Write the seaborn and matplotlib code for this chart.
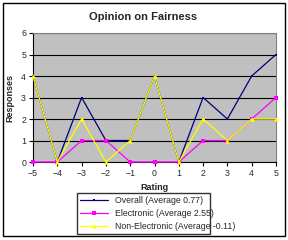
import pandas as pd
import matplotlib
matplotlib.use("Agg")
import matplotlib.pyplot as plt
import matplotlib.patches as mpatches
import seaborn as sns

# data
ratings = [-5, -4, -3, -2, -1, 0, 1, 2, 3, 4, 5]
overall = [4, 0, 3, 1, 1, 4, 0, 3, 2, 4, 5]
electronic = [0, 0, 1, 1, 0, 0, 0, 1, 1, 2, 3]
non_electronic = [4, 0, 2, 0, 1, 4, 0, 2, 1, 2, 2]
labels = ["Overall (Average 0.77)", "Electronic (Average 2.55)", "Non-Electronic (Average -0.11)"]

df = pd.DataFrame({
    "Rating": ratings * 3,
    "Responses": overall + electronic + non_electronic,
    "Series": [labels[0]] * 11 + [labels[1]] * 11 + [labels[2]] * 11,
})

sns.set_theme(style="white")
plt.rcParams["font.family"] = ["Liberation Sans", "DejaVu Sans"]

fig = plt.figure(figsize=(2.88, 2.40), dpi=100)
ax = fig.add_axes([33 / 288, 1 - 162 / 240, 243 / 288, 129 / 240])
ax.set_facecolor("#C0C0C0")

colors = {labels[0]: "#000080", labels[1]: "#FF00FF", labels[2]: "#FFFF00"}
markers = {labels[0]: "s", labels[1]: "s", labels[2]: "^"}
sizes = {labels[0]: 2.0, labels[1]: 3.2, labels[2]: 3.2}

for lab in labels:
    sub = df[df["Series"] == lab]
    sns.lineplot(data=sub, x="Rating", y="Responses", ax=ax, color=colors[lab],
                 marker=markers[lab], markersize=sizes[lab], markeredgewidth=0,
                 linewidth=0.9, label=lab, legend=False, clip_on=False, zorder=3)

ax.set_xlim(-5, 5)
ax.set_ylim(0, 6)
ax.set_xticks(ratings)
ax.set_yticks(range(0, 7))
ax.yaxis.grid(True, color="black", linewidth=0.8)
ax.set_axisbelow(True)
for s in ax.spines.values():
    s.set_color("#808080")
    s.set_linewidth(0.8)
ax.spines["left"].set_color("black")
ax.spines["bottom"].set_color("black")
ax.tick_params(axis="both", labelsize=6.3, length=3, width=0.8, direction="out",
               pad=2, bottom=True, left=True, color="black")
ax.set_xlabel("Rating", fontsize=6.5, fontweight="bold", labelpad=4)
ax.set_ylabel("Responses", fontsize=6.5, fontweight="bold", labelpad=5)
fig.text(143 / 288, 1 - 17 / 240, "Opinion on Fairness", fontsize=8, fontweight="bold",
         ha="center", va="center")

handles, hl = ax.get_legend_handles_labels()
fig.legend(handles, hl, loc="lower left",
           bbox_to_anchor=(77 / 288, 6 / 240, 133 / 288, 41 / 240), mode="expand",
           fontsize=6.3, frameon=True, fancybox=False, edgecolor="black",
           borderaxespad=0, handlelength=3.2, labelspacing=0.45, borderpad=0.35)

fig.patches.append(mpatches.Rectangle((2.5 / 288, 4 / 240), 282 / 288, 233.5 / 240,
                                      transform=fig.transFigure, fill=False,
                                      edgecolor="black", linewidth=1.0))

fig.savefig("out.png", dpi=100)
